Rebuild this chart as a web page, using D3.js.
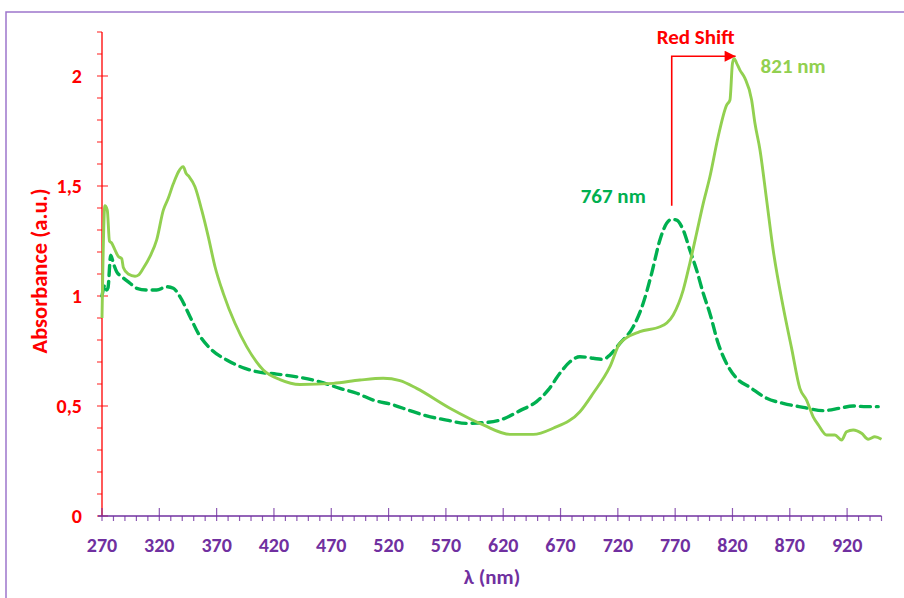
<!DOCTYPE html>
<html lang="en">
<head>
  <meta charset="UTF-8">
  <title>Absorbance spectra</title>
  <script src="https://d3js.org/d3.v7.min.js"></script>
  <style>
    body { margin: 0; background: #fff; }
    svg { display: block; font-family: Carlito, Lato, sans-serif; font-weight: bold; }
  </style>
</head>
<body>
  <svg id="chart" width="904" height="598"></svg>
  <script>
    // solid curve (light green), [wavelength nm, absorbance]
    const solidSpectrum = [
      [270, 0.90], [272.5, 1.41], [274.6, 1.39], [276.5, 1.25], [278.5, 1.24], [281.3, 1.21],
      [284.2, 1.18], [287.2, 1.17], [288.6, 1.13], [292.9, 1.10], [298.8, 1.09], [301.7, 1.095],
      [306, 1.126], [311.9, 1.18], [317.7, 1.255], [323.5, 1.39], [327.8, 1.444], [332.2, 1.51],
      [340.9, 1.588], [343.3, 1.558], [346.1, 1.542], [351.1, 1.497], [357, 1.39], [362.7, 1.27],
      [368.6, 1.133], [375.8, 1.012], [386, 0.876], [396.2, 0.77], [410.7, 0.664], [425.3, 0.62],
      [442.7, 0.598], [471.7, 0.603], [495, 0.618], [515.3, 0.626], [529.9, 0.615], [544.5, 0.58],
      [573.5, 0.49], [602.6, 0.414], [625.9, 0.371], [646.2, 0.371], [663.6, 0.399], [686.9, 0.474],
      [698.5, 0.558], [713.1, 0.679], [721.8, 0.785], [739.2, 0.838], [756.7, 0.86], [768.3, 0.914],
      [777, 1.027], [782.8, 1.149], [788.7, 1.285], [794.5, 1.421], [800.3, 1.542], [807.5, 1.724],
      [814.9, 1.868], [817.8, 1.891], [820, 2.058], [821.5, 2.08], [823.5, 2.06], [826.5, 2.027],
      [830.8, 1.99], [836.7, 1.891], [839.6, 1.785], [844, 1.664], [849.8, 1.436], [855.5, 1.209],
      [864.2, 0.951], [871.6, 0.762], [878.8, 0.58], [884.6, 0.527], [890.4, 0.451], [894.9, 0.414],
      [902.1, 0.368], [909.3, 0.368], [915.2, 0.345], [919.5, 0.383], [925.3, 0.391], [932.6, 0.376],
      [938.4, 0.349], [944.2, 0.36], [950, 0.349]
    ];

    // dashed curve (dark green)
    const dashedSpectrum = [
      [270, 1.0], [272.6, 1.05], [274.1, 1.027], [275.2, 1.036], [277.6, 1.186], [279.9, 1.149],
      [282.8, 1.11], [287.2, 1.088], [294.4, 1.058], [300.3, 1.035], [309, 1.027], [317.7, 1.027],
      [326.4, 1.042], [332.2, 1.035], [338, 0.997], [346.8, 0.906], [354, 0.83], [365.7, 0.755],
      [378.8, 0.709], [394.7, 0.671], [404.9, 0.656], [422.4, 0.645], [442.7, 0.63], [460.1, 0.61],
      [477.6, 0.58], [492.2, 0.558], [506.6, 0.527], [524.1, 0.505], [538.6, 0.479], [553.2, 0.455],
      [570.6, 0.436], [588.1, 0.421], [602.6, 0.424], [617.1, 0.436], [634.6, 0.479], [649.1, 0.52],
      [659.3, 0.573], [669.5, 0.649], [678.2, 0.701], [686.9, 0.724], [698.5, 0.717], [707.3, 0.712],
      [713.1, 0.732], [721.8, 0.785], [733.4, 0.86], [742.1, 0.967], [749.5, 1.103], [756.7, 1.255],
      [762.5, 1.33], [766.9, 1.349], [771.3, 1.345], [777, 1.3], [782.8, 1.209], [788.7, 1.118],
      [794.5, 1.012], [800.3, 0.921], [807.5, 0.785], [816.3, 0.679], [823.6, 0.626], [835.2, 0.585],
      [849.8, 0.535], [864.2, 0.512], [881.7, 0.494], [899.1, 0.479], [913.7, 0.49], [925.3, 0.5],
      [936.9, 0.497], [947.1, 0.497]
    ];

    const xTicks = [270, 320, 370, 420, 470, 520, 570, 620, 670, 720, 770, 820, 870, 920];
    const yTicks = [0, 0.5, 1, 1.5, 2];
    const shiftFrom = { nm: 767, abs: 1.41, label: "767 nm" };
    const shiftTo = { nm: 821, abs: 2.09, label: "821 nm" };

    const svg = d3.select("#chart");
    const purple = "#7030A0", red = "#FF0000";
    const solidColor = "#92D050", dashedColor = "#00B050";

    // outer frame of the chart area
    svg.append("rect")
      .attr("x", 6).attr("y", 12).attr("width", 1000).attr("height", 700)
      .attr("fill", "none").attr("stroke", "#9D75CB").attr("stroke-width", 1.5);

    const x = d3.scaleLinear().domain([270, 950]).range([102, 881.5]);
    const y = d3.scaleLinear().domain([0, 2.2]).range([516, 32]);

    // y axis (red)
    svg.append("line")
      .attr("x1", 102).attr("x2", 102).attr("y1", y(2.2)).attr("y2", y(0))
      .attr("stroke", red).attr("stroke-width", 1.3);
    svg.append("g").selectAll("line")
      .data(d3.range(0, 23).map(i => i / 10))
      .join("line")
      .attr("x1", 97)
      .attr("x2", d => yTicks.some(t => Math.abs(t - d) < 1e-6) ? 108 : 102)
      .attr("y1", d => y(d)).attr("y2", d => y(d))
      .attr("stroke", red).attr("stroke-opacity", 0.75).attr("stroke-width", 1.2);
    svg.append("g").selectAll("text")
      .data(yTicks)
      .join("text")
      .attr("x", 82).attr("y", d => y(d))
      .attr("dy", "0.36em")
      .attr("text-anchor", "end")
      .attr("fill", red)
      .style("font-size", "20px")
      .text(d => String(d).replace(".", ","));

    // x axis (purple)
    svg.append("line")
      .attr("x1", 98).attr("x2", x(950)).attr("y1", 516).attr("y2", 516)
      .attr("stroke", purple).attr("stroke-width", 1.5);
    svg.append("g").selectAll("line")
      .data(d3.range(270, 951, 10))
      .join("line")
      .attr("x1", d => x(d)).attr("x2", d => x(d))
      .attr("y1", d => (d - 270) % 50 === 0 ? 508 : 516)
      .attr("y2", 521)
      .attr("stroke", purple).attr("stroke-opacity", 0.8).attr("stroke-width", 1.2);
    svg.append("g").selectAll("text")
      .data(xTicks)
      .join("text")
      .attr("x", d => x(d)).attr("y", 552)
      .attr("text-anchor", "middle")
      .attr("fill", purple)
      .style("font-size", "20px")
      .text(d => d);

    // axis titles
    svg.append("text")
      .attr("x", 492).attr("y", 584)
      .attr("text-anchor", "middle").attr("fill", purple)
      .style("font-size", "21px")
      .text("λ (nm)");
    svg.append("text")
      .attr("transform", "translate(47,271) rotate(-90)")
      .attr("text-anchor", "middle").attr("fill", red)
      .style("font-size", "22.5px")
      .text("Absorbance (a.u.)");

    // spectra
    const line = d3.line()
      .x(d => x(d[0]))
      .y(d => y(d[1]))
      .curve(d3.curveMonotoneX);

    svg.append("path")
      .datum(dashedSpectrum)
      .attr("d", line)
      .attr("fill", "none")
      .attr("stroke", dashedColor)
      .attr("stroke-width", 3.4)
      .attr("stroke-dasharray", "10,6")
      .attr("stroke-linecap", "round");

    svg.append("path")
      .datum(solidSpectrum)
      .attr("d", line)
      .attr("fill", "none")
      .attr("stroke", solidColor)
      .attr("stroke-width", 2.9)
      .attr("stroke-linejoin", "round");

    // red shift arrow
    svg.append("defs").append("marker")
      .attr("id", "arrowhead")
      .attr("viewBox", "0 -5 10 10")
      .attr("refX", 10).attr("refY", 0)
      .attr("markerWidth", 12).attr("markerHeight", 11)
      .attr("markerUnits", "userSpaceOnUse")
      .attr("orient", "auto")
      .append("path")
      .attr("d", "M0,-5L10,0L0,5Z")
      .attr("fill", red);

    svg.append("path")
      .attr("d", `M${x(shiftFrom.nm)},${y(shiftFrom.abs)} V${y(shiftTo.abs)} H${x(shiftTo.nm) + 2}`)
      .attr("fill", "none")
      .attr("stroke", red)
      .attr("stroke-width", 1.6)
      .attr("marker-end", "url(#arrowhead)");

    svg.append("text")
      .attr("x", x(shiftFrom.nm) - 15).attr("y", 44)
      .attr("fill", red)
      .style("font-size", "21px")
      .text("Red Shift");

    svg.append("text")
      .attr("x", x(shiftFrom.nm) - 26).attr("y", y(shiftFrom.abs) - 3)
      .attr("text-anchor", "end")
      .attr("fill", dashedColor)
      .style("font-size", "21px")
      .text(shiftFrom.label);

    svg.append("text")
      .attr("x", x(shiftTo.nm) + 27).attr("y", 73)
      .attr("fill", solidColor)
      .style("font-size", "21px")
      .text(shiftTo.label);
  </script>
</body>
</html>
